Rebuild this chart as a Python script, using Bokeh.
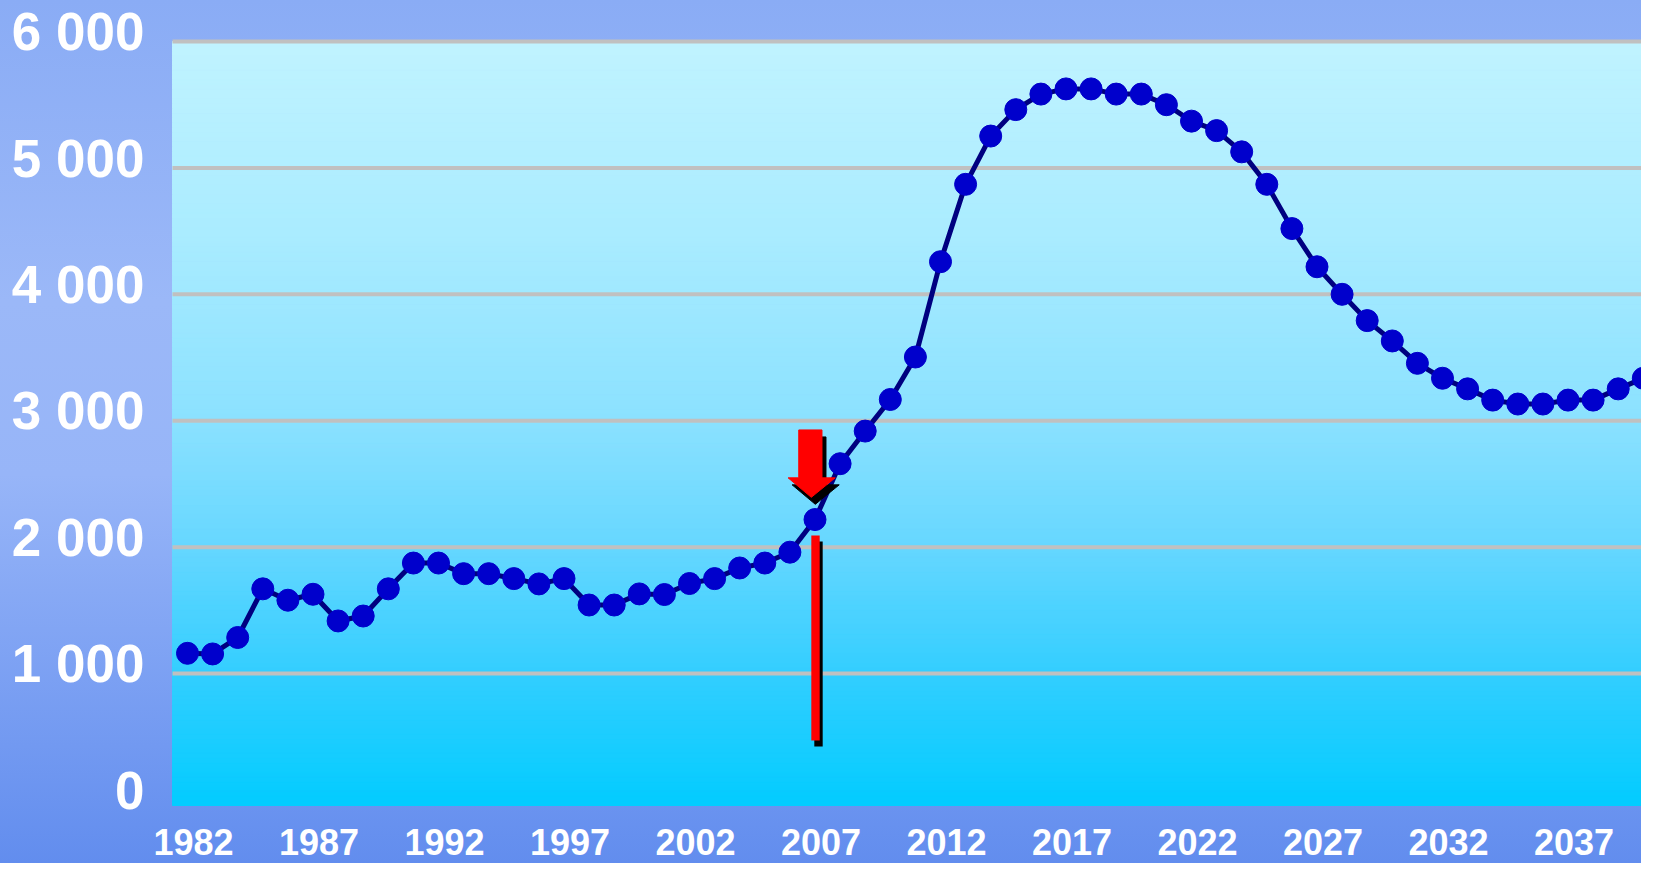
import numpy as np
from bokeh.plotting import figure
from bokeh.models import Range1d, LinearAxis, FixedTicker
from bokeh.embed import file_html
from bokeh.resources import INLINE

# ---------------- data ----------------
years = list(range(1982, 2041))
values = [
    1160, 1155, 1285, 1670, 1580, 1627, 1416, 1455, 1670, 1874,   # 1982-1991
    1874, 1790, 1790, 1751, 1709, 1751, 1542, 1542, 1630, 1625,   # 1992-2001
    1712, 1751, 1835, 1874, 1960, 2218, 2660, 2918, 3168, 3504,   # 2002-2011
    4258, 4870, 5252, 5461, 5584, 5625, 5625, 5584, 5584, 5500,   # 2012-2021
    5370, 5295, 5127, 4870, 4520, 4218, 4000, 3792, 3631, 3454,   # 2022-2031
    3336, 3252, 3163, 3132, 3132, 3163, 3163, 3252, 3336,         # 2032-2040
]
x_tick_years = [1982, 1987, 1992, 1997, 2002, 2007, 2012, 2017, 2022, 2027, 2032, 2037]
y_ticks = [0, 1000, 2000, 3000, 4000, 5000, 6000]
y_tick_labels = {0: "0", 1000: "1 000", 2000: "2 000", 3000: "3 000",
                 4000: "4 000", 5000: "5 000", 6000: "6 000"}
grid_values = [1000, 2000, 3000, 4000, 5000, 6000]
y_axis_min = -44          # bottom of the coloured plot area
y_axis_max = 6000

# annotation: red arrow pointing at 2007 and red vertical bar
arrow_x = [2006.353, 2007.278, 2007.278, 2007.806, 2006.853, 2005.929, 2006.353]
arrow_y = [2927, 2927, 2548, 2548, 2394, 2548, 2548]
bar_left, bar_right = 2006.853, 2007.187
bar_bottom, bar_top = 470, 2091

# ---------------- layout ----------------
W, H = 1641, 863
LEFT, TOP = 150, 28
px_x = 1 / 25.1                      # years per pixel
px_y = (y_axis_max - y_axis_min) / 764.0
X_area = 1982 - 15 * px_x            # left edge of the coloured area (pixel 172)
X0 = 1982 - (15 + 172 - LEFT) * px_x
X1 = X0 + (W - LEFT) * px_x
Y_top = y_axis_max + 13 * px_y
Y_bot = y_axis_min - (H - 805) * px_y

p = figure(width=W, height=H, output_backend="svg", toolbar_location=None,
           x_range=Range1d(X0, X1), y_range=Range1d(Y_bot, Y_top),
           x_axis_location=None, y_axis_location=None,
           min_border_left=LEFT, min_border_right=0, min_border_top=TOP, min_border_bottom=0)
p.border_fill_alpha = 0
p.background_fill_alpha = 0
p.outline_line_color = None
p.styles = {"background": "linear-gradient(to bottom, #8AACF5 0%, #9BB8F8 35%, #97B5F8 55%, #628DEE 100%)"}
p.xgrid.visible = False
p.ygrid.visible = False

# plot-area gradient (style only)
stops = [(0.0, (192, 243, 255)), (0.25, (170, 236, 255)), (0.5, (138, 225, 255)),
         (0.66, (102, 215, 255)), (0.83, (50, 206, 255)), (1.0, (2, 204, 255))]
N = 160
edges = np.linspace(y_axis_min, y_axis_max, N + 1)
cols = []
for i in range(N):
    ym = 0.5 * (edges[i] + edges[i + 1])
    t = (y_axis_max - ym) / (y_axis_max - y_axis_min)
    for (t0, c0), (t1, c1) in zip(stops[:-1], stops[1:]):
        if t0 <= t <= t1:
            f = (t - t0) / (t1 - t0)
            c = tuple(int(round(a + (b - a) * f)) for a, b in zip(c0, c1))
            break
    cols.append("#%02x%02x%02x" % c)
p.quad(left=X_area, right=X1, bottom=edges[:-1], top=edges[1:], fill_color=cols,
       line_color=cols, line_width=1, level="image")

# horizontal grid lines over the coloured area only
p.segment(x0=[X_area] * len(grid_values), x1=[X1] * len(grid_values),
          y0=grid_values, y1=grid_values, line_color="#C0C0C0", line_width=4, level="underlay")

# axes (label ranges shifted so labels sit like the original)
p.extra_y_ranges = {"ylab": Range1d(Y_bot - 78, Y_top - 78)}
p.extra_x_ranges = {"xlab": Range1d(X0 - 6 * px_x, X1 - 6 * px_x)}

yaxis = LinearAxis(y_range_name="ylab", ticker=FixedTicker(ticks=y_ticks),
                   major_label_overrides=y_tick_labels)
xaxis = LinearAxis(x_range_name="xlab", ticker=FixedTicker(ticks=x_tick_years))
for ax in (yaxis, xaxis):
    ax.axis_line_color = None
    ax.major_tick_line_color = None
    ax.minor_tick_line_color = None
    ax.major_tick_out = 0
    ax.major_tick_in = 0
    ax.major_label_text_font = "Liberation Sans"
    ax.major_label_text_font_style = "bold"
    ax.major_label_text_color = "white"
yaxis.major_label_text_font_size = "53px"
yaxis.major_label_standoff = 6
xaxis.major_label_text_font_size = "36px"
xaxis.major_label_standoff = 23
xaxis.fixed_location = y_axis_min
p.add_layout(yaxis, "left")
p.add_layout(xaxis, "below")

# series
p.line(years, values, line_color="#000080", line_width=5)
p.scatter(years, values, size=22, fill_color="#0000CC", line_color="#0000CC", line_width=1)

# annotations with shadows
sdx, sdy = 4 * px_x, -7 * px_y
p.patch([x + sdx for x in arrow_x], [y + sdy for y in arrow_y], fill_color="black", line_color="black")
p.patch(arrow_x, arrow_y, fill_color="#FF0000", line_color="#FF0000")
bdx, bdy = 3 * px_x, -6 * px_y
p.quad(left=[bar_left + bdx], right=[bar_right + bdx], bottom=[bar_bottom + bdy], top=[bar_top + bdy],
       fill_color="black", line_color=None)
p.quad(left=[bar_left], right=[bar_right], bottom=[bar_bottom], top=[bar_top],
       fill_color="#FF0000", line_color=None)

open("out.html", "w").write(file_html(p, INLINE))
